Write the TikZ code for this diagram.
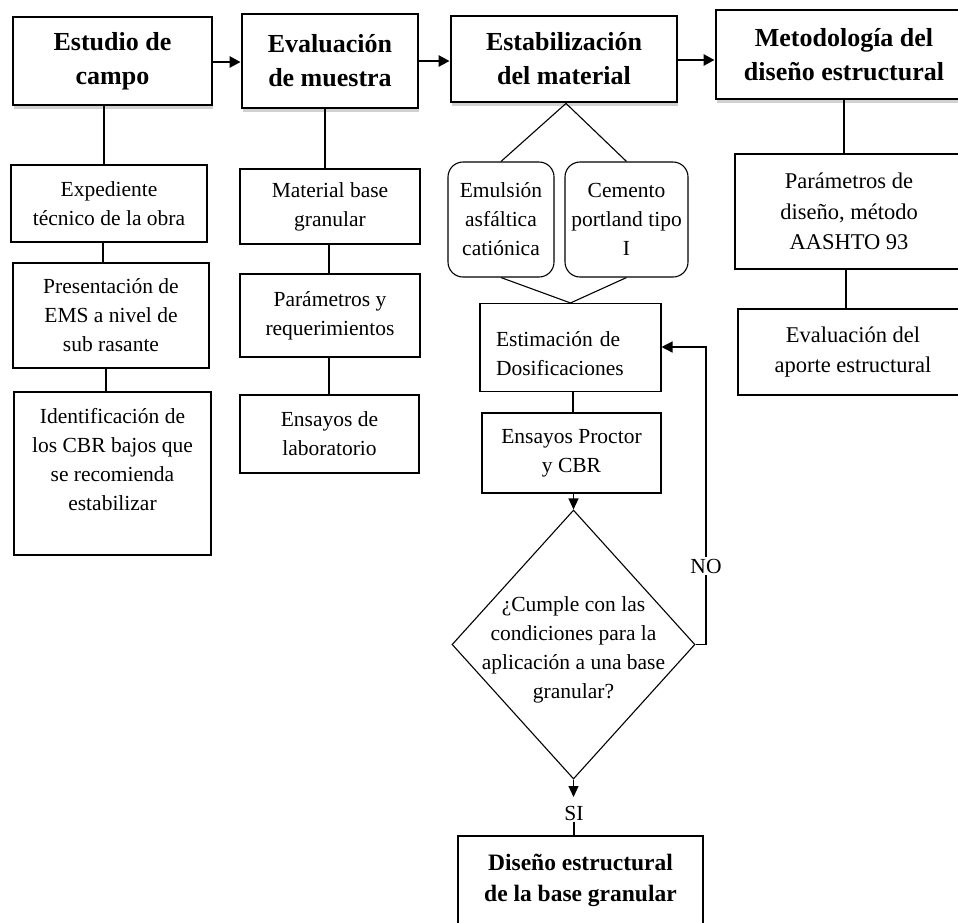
\documentclass[tikz,border=0pt]{standalone}
\usepackage{fontspec}
\setmainfont{Liberation Serif}
\usetikzlibrary{arrows.meta,shapes.geometric,shadows}
\newcommand\myHdrFont{\fontsize{26}{34}\selectfont\bfseries}
\newcommand\myBodyFont{\fontsize{21.5}{29}\selectfont}
\newcommand\myColFourFont{\fontsize{22.5}{30.5}\selectfont}
\newcommand\myDisFont{\fontsize{23.5}{31}\selectfont\bfseries}
\begin{document}
\begin{tikzpicture}[x=1pt,y=-1pt,
  hdr/.style={draw, line width=2.8pt, fill=white, font=\myHdrFont, align=center, inner sep=0pt,
    drop shadow={shadow xshift=1pt, shadow yshift=-4pt, opacity=0.18, fill=black}},
  box/.style={draw, line width=1.1pt, fill=white, font=\myBodyFont, align=center, inner sep=0pt},
  rbox/.style={box, rounded corners=15pt},
  conn/.style={line width=1.1pt},
  harr/.style={line width=2.6pt, -{Triangle[length=11pt,width=11pt]}},
  sarr/.style={line width=1.1pt, -{Triangle[length=11pt,width=10pt]}},
  larr/.style={line width=1.5pt, -{Triangle[length=11pt,width=11pt]}},
  lbl/.style={font=\myBodyFont, inner sep=1.5pt, fill=white}
]
\useasboundingbox (0,0) rectangle (958,922);
\clip (0,0) rectangle (958,922);

% headers
\node[hdr, minimum width=199pt, minimum height=88pt] (hdr1) at (112.5,61) {Estudio de\\campo};
\node[hdr, minimum width=176pt, minimum height=94pt] (hdr2) at (330,61) {Evaluación\\de muestra};
\node[hdr, minimum width=226pt, minimum height=86pt] (hdr3) at (564,59) {Estabilización\\del material};
\node[hdr, minimum width=256pt, minimum height=89pt] (hdr4) at (844,54.5) {Metodología del\\diseño estructural};

% column 1
\node[box, minimum width=196pt, minimum height=77pt] (exp) at (109,203.5) {Expediente\\técnico de la obra};
\node[box, minimum width=196pt, minimum height=105pt] (pres) at (111,315.5) {Presentación de\\EMS a nivel de\\sub rasante};
\node[box, minimum width=197pt, minimum height=163pt, text depth=29pt] (ident) at (112.5,473.5) {Identificación de\\los CBR bajos que\\se recomienda\\estabilizar};

% column 2
\node[box, minimum width=180pt, minimum height=75pt] (mat) at (330,206.5) {Material base\\granular};
\node[box, minimum width=180pt, minimum height=83pt] (par) at (330,315.5) {Parámetros y\\requerimientos};
\node[box, minimum width=179pt, minimum height=78pt] (ens) at (329.5,434) {Ensayos de\\laboratorio};

% column 3
\node[rbox, minimum width=106pt, minimum height=115pt] (emu) at (501,219.5) {Emulsión\\asfáltica\\catiónica};
\node[rbox, minimum width=123pt, minimum height=115pt] (cem) at (626.5,219.5) {Cemento\\portland tipo\\I};
\node[box, text width=149pt, align=left, inner xsep=16pt, minimum height=88pt, text depth=17pt] (est) at (570.5,347.5) {Estimación de\\Dosificaciones};
\node[box, minimum width=179pt, minimum height=80pt] (pro) at (571.5,453) {Ensayos Proctor\\y CBR};
\node[draw, diamond, line width=1.1pt, minimum width=243pt, minimum height=269pt, inner sep=0pt] (dec) at (573.5,644.5) {};
\node[font=\myBodyFont, align=center, inner sep=0pt] (dectxt) at (573.5,650) {¿Cumple con las\\condiciones para la\\aplicación a una base\\granular?};
\coordinate (siTip) at (573.5,797);
\node[lbl] (si) at (574,813) {SI};
\node[box, font=\myDisFont, minimum width=245pt, minimum height=89pt] (dis) at (580.5,880.5) {Diseño estructural\\de la base granular};

% column 4
\node[box, font=\myColFourFont, minimum width=228pt, minimum height=115pt] (pdis) at (849,211.5) {Parámetros de\\diseño, método\\AASHTO 93};
\node[box, font=\myColFourFont, minimum width=230pt, minimum height=86pt] (eap) at (853,352) {Evaluación del\\aporte estructural};

% header arrows
\draw[harr] (hdr1.east |- 0,62) -- (hdr2.west |- 0,62);
\draw[harr] (hdr2.east |- 0,61) -- (hdr3.west |- 0,61);
\draw[harr] (hdr3.east |- 0,60) -- (hdr4.west |- 0,60);

% column 1 connectors
\draw[conn] (hdr1.south -| 104,0) -- (exp.north -| 104,0);
\draw[conn] (exp.south -| 103,0) -- (pres.north -| 103,0);
\draw[conn] (pres.south -| 106,0) -- (ident.north -| 106,0);

% column 2 connectors
\draw[conn] (hdr2.south -| 325,0) -- (mat.north -| 325,0);
\draw[conn] (mat.south -| 329,0) -- (par.north -| 329,0);
\draw[conn] (par.south -| 329,0) -- (ens.north -| 329,0);

% column 3 connectors
\draw[conn] (hdr3.south -| 566,0) -- (emu.north);
\draw[conn] (hdr3.south -| 566,0) -- (cem.north);
\draw[conn] (emu.south) -- (est.north);
\draw[conn] (cem.south) -- (est.north);
\draw[conn] (est.south -| 573,0) -- (pro.north -| 573,0);
\draw[sarr] (pro.south -| dec.north) -- (dec.north);
\draw[sarr] (dec.south) -- (siTip);
\draw[conn] (si.south) -- (si.south |- dis.north);
\draw[larr] (dec.east) -- (dec.east -| 706,0) -- (706,347) -- (est.east |- 0,347);
\node[lbl] (no) at (706,566) {NO};

% column 4 connectors
\draw[conn] (hdr4.south -| 844,0) -- (pdis.north -| 844,0);
\draw[conn] (pdis.south -| 846,0) -- (eap.north -| 846,0);
\end{tikzpicture}
\end{document}
